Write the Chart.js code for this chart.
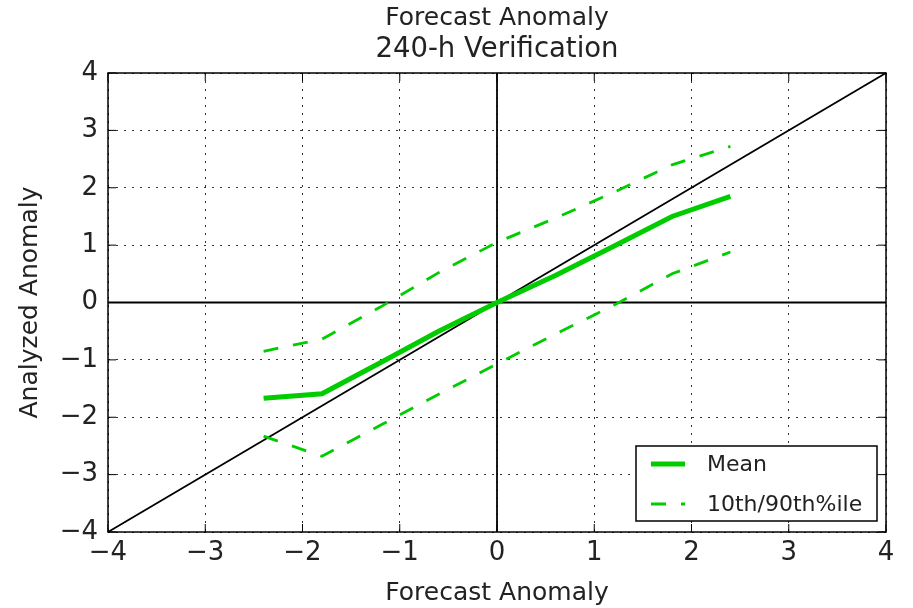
<!DOCTYPE html>
<html>
<head>
<meta charset="utf-8">
<script src="https://cdn.jsdelivr.net/npm/chart.js@4/dist/chart.umd.min.js"></script>
<style>
  html, body { margin: 0; padding: 0; background: #fff; }
  #wrap { width: 913px; height: 608px; }
</style>
</head>
<body>
<div id="wrap"><canvas id="verifChart" width="913" height="608"></canvas></div>
<script>
// forecast anomaly bins
const forecastBins = [-2.4, -1.8, -1.2, -0.6, 0, 0.6, 1.2, 1.8, 2.4];
const meanAnalyzed = [-1.67, -1.59, -1.05, -0.5, 0, 0.47, 0.98, 1.5, 1.85];
const pct90 = [-0.85, -0.64, -0.08, 0.52, 1.05, 1.47, 1.92, 2.4, 2.72];
const pct10 = [-2.33, -2.68, -2.14, -1.6, -1.07, -0.55, -0.05, 0.5, 0.88];
const axisRange = [-4, 4];
const tickValues = [-4, -3, -2, -1, 0, 1, 2, 3, 4];

const green = '#00cc00';
const fontFam = '"DejaVu Sans", sans-serif';

function toPoints(xs, ys) {
  return xs.map((x, i) => ({ x: x, y: ys[i] }));
}
function minusSign(v) {
  return String(v).replace('-', '\u2212');
}

// frame, inner ticks and legend box
const framePlugin = {
  id: 'frame',
  afterDatasetsDraw(chart) {
    const { ctx, chartArea: a, scales } = chart;
    ctx.save();
    ctx.strokeStyle = '#000';
    ctx.lineWidth = 1.5;
    ctx.strokeRect(a.left, a.top, a.right - a.left, a.bottom - a.top);
    ctx.lineWidth = 1;
    tickValues.forEach(v => {
      const px = scales.x.getPixelForValue(v);
      const py = scales.y.getPixelForValue(v);
      ctx.beginPath();
      ctx.moveTo(px, a.bottom); ctx.lineTo(px, a.bottom - 8);
      ctx.moveTo(px, a.top); ctx.lineTo(px, a.top + 8);
      ctx.moveTo(a.left, py); ctx.lineTo(a.left + 8, py);
      ctx.moveTo(a.right, py); ctx.lineTo(a.right - 8, py);
      ctx.stroke();
    });

    // legend
    const bx = a.right - 250, by = a.bottom - 86, bw = 241, bh = 75;
    ctx.fillStyle = '#fff';
    ctx.fillRect(bx, by, bw, bh);
    ctx.lineWidth = 1.5;
    ctx.strokeStyle = '#000';
    ctx.strokeRect(bx, by, bw, bh);
    const items = chart.data.datasets.filter(d => d.legendLabel);
    ctx.font = '22px ' + fontFam;
    ctx.textBaseline = 'middle';
    items.forEach((d, i) => {
      const y = by + 18 + i * 40;
      ctx.strokeStyle = d.borderColor;
      ctx.lineWidth = d.borderWidth;
      ctx.setLineDash(d.borderDash || []);
      ctx.beginPath();
      ctx.moveTo(bx + 15, y);
      ctx.lineTo(bx + 49, y);
      ctx.stroke();
      ctx.setLineDash([]);
      ctx.fillStyle = '#222';
      ctx.fillText(d.legendLabel, bx + 71, y + 1);
    });
    ctx.restore();
  }
};

new Chart(document.getElementById('verifChart'), {
  type: 'line',
  data: {
    datasets: [
      {
        legendLabel: 'Mean',
        data: toPoints(forecastBins, meanAnalyzed),
        borderColor: green, borderWidth: 5, pointRadius: 0, order: 1
      },
      {
        legendLabel: '10th/90th%ile',
        data: toPoints(forecastBins, pct90),
        borderColor: green, borderWidth: 2.8, borderDash: [15, 15], pointRadius: 0, order: 2
      },
      {
        data: toPoints(forecastBins, pct10),
        borderColor: green, borderWidth: 2.8, borderDash: [15, 15], pointRadius: 0, order: 2
      },
      {
        data: toPoints(axisRange, axisRange),
        borderColor: '#000', borderWidth: 1.8, pointRadius: 0, order: 3
      },
      {
        data: toPoints(axisRange, [0, 0]),
        borderColor: '#000', borderWidth: 1.8, pointRadius: 0, order: 3
      },
      {
        data: toPoints([0, 0], axisRange),
        borderColor: '#000', borderWidth: 1.8, pointRadius: 0, order: 3
      }
    ]
  },
  options: {
    responsive: false,
    animation: false,
    layout: { padding: { right: 27, left: 0, top: 0, bottom: 0 } },
    plugins: {
      legend: { display: false },
      tooltip: { enabled: false },
      title: {
        display: true, fullSize: false,
        text: 'Forecast Anomaly',
        color: '#222',
        font: { family: fontFam, size: 25, weight: 'normal' },
        padding: { top: 3, bottom: 0 }
      },
      subtitle: {
        display: true, fullSize: false,
        text: '240-h Verification',
        color: '#222',
        font: { family: fontFam, size: 27.5, weight: 'normal' },
        padding: { top: 0, bottom: 7 }
      }
    },
    scales: {
      x: {
        type: 'linear', min: -4, max: 4,
        afterBuildTicks: s => { s.ticks = tickValues.map(v => ({ value: v })); },
        afterFit: s => { s.height = 76; },
        ticks: {
          color: '#222', padding: 6,
          font: { family: fontFam, size: 26 },
          callback: v => minusSign(v)
        },
        grid: { color: '#333', lineWidth: 1, drawTicks: false },
        border: { display: false, dash: [2, 6] },
        title: {
          display: true, text: 'Forecast Anomaly', color: '#222',
          font: { family: fontFam, size: 25 },
          padding: { top: 0, bottom: 0 }
        }
      },
      y: {
        type: 'linear', min: -4, max: 4,
        afterBuildTicks: s => { s.ticks = tickValues.map(v => ({ value: v })); },
        afterFit: s => { s.width = 108; },
        ticks: {
          color: '#222', padding: 10,
          font: { family: fontFam, size: 26 },
          callback: v => minusSign(v)
        },
        grid: { color: '#333', lineWidth: 1, drawTicks: false },
        border: { display: false, dash: [2, 6] },
        title: {
          display: true, text: 'Analyzed Anomaly', color: '#222',
          font: { family: fontFam, size: 25 },
          padding: { top: 15, bottom: 0 }
        }
      }
    }
  },
  plugins: [framePlugin]
});
</script>
</body>
</html>
